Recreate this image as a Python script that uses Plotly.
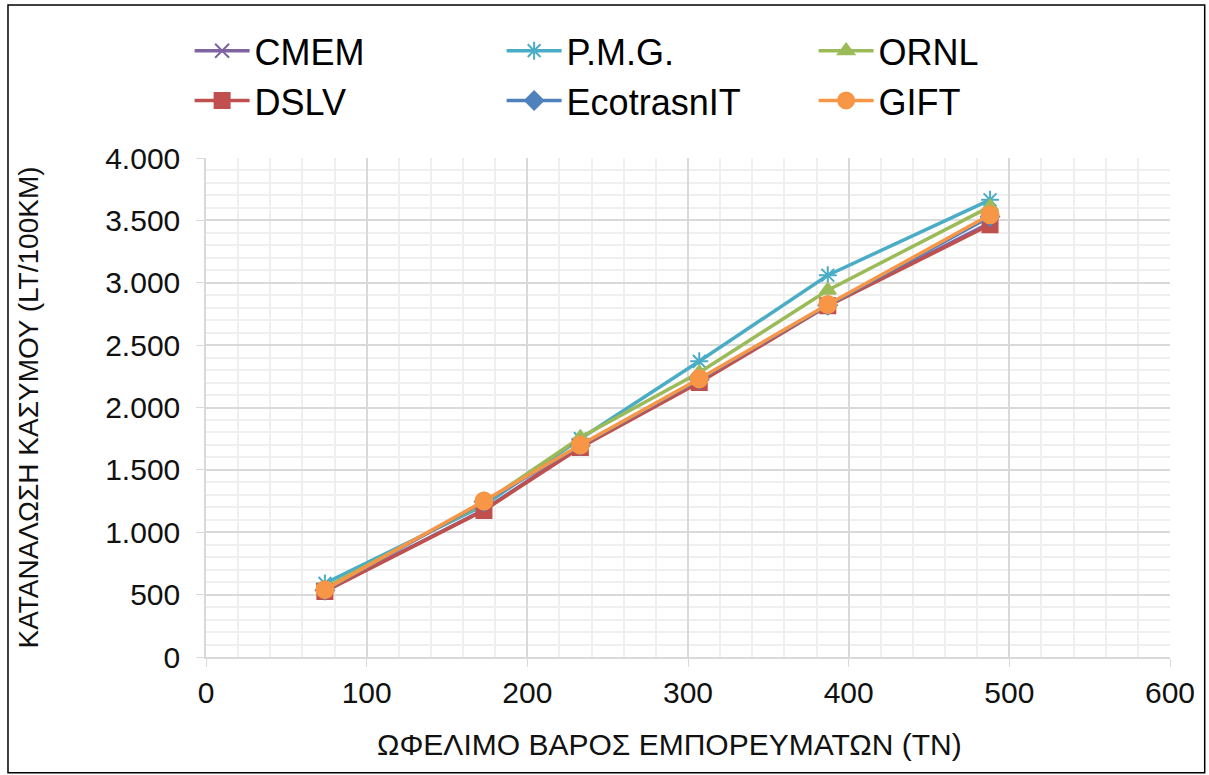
import plotly.graph_objects as go

payload = [74, 173, 233, 307, 387, 488]
series_names = ["CMEM", "P.M.G.", "ORNL", "DSLV", "EcotrasnIT", "GIFT"]
cmem = [530, 1180, 1690, 2210, 2820, 3480]
pmg = [590, 1215, 1750, 2370, 3060, 3665]
ornl = [555, 1235, 1760, 2280, 2940, 3610]
dslv = [525, 1175, 1680, 2200, 2815, 3465]
ecotrans = [535, 1245, 1695, 2225, 2820, 3530]
gift = [540, 1250, 1700, 2230, 2825, 3545]
x_title = "ΩΦΕΛΙΜΟ ΒΑΡΟΣ ΕΜΠΟΡΕΥΜΑΤΩΝ (TN)"
y_title = "ΚΑΤΑΝΑΛΩΣΗ ΚΑΣΥΜΟΥ (LT/100KM)"

colors = ["#8064A2", "#4BACC6", "#9BBB59", "#C0504D", "#4F81BD", "#F79646"]
symbols = ["x-thin-open", "asterisk-open", "triangle-up", "square", "diamond", "circle"]
sizes = [14, 15, 14, 15, 14, 17]
values = [cmem, pmg, ornl, dslv, ecotrans, gift]

fig = go.Figure()
for name, vals, c, s, sz in zip(series_names, values, colors, symbols, sizes):
    fig.add_trace(go.Scatter(
        x=payload, y=vals, name=name, mode="lines+markers",
        line=dict(color=c, width=3.5),
        marker=dict(symbol=s, size=sz, color=c, line=dict(color=c, width=2)),
    ))

font_family = "Liberation Sans, Arial, sans-serif"
fig.update_layout(
    width=1209, height=775,
    margin=dict(l=206, r=39, t=158, b=118),
    paper_bgcolor="white", plot_bgcolor="white",
    separators=",.",
    font=dict(family=font_family, color="#111111"),
    legend=dict(
        orientation="h", x=-0.017, y=1.275, xanchor="left", yanchor="top",
        entrywidth=242, entrywidthmode="pixels",
        font=dict(size=36, color="#000000"), itemwidth=55,
        tracegroupgap=0,
    ),
    xaxis=dict(
        range=[0, 600], dtick=100, tick0=0,
        showgrid=True, gridcolor="#d9d9d9", gridwidth=1.5,
        minor=dict(dtick=20, showgrid=True, gridcolor="#efefef", gridwidth=1.5),
        ticks="outside", ticklen=8, tickcolor="#d9d9d9",
        showline=True, linecolor="#d9d9d9", linewidth=1.5,
        zeroline=False,
        tickfont=dict(size=30, color="#111111"),
    ),
    yaxis=dict(
        range=[0, 4000], dtick=500, tick0=0, tickformat=",d",
        showgrid=True, gridcolor="#d9d9d9", gridwidth=1.5,
        minor=dict(dtick=100, showgrid=True, gridcolor="#efefef", gridwidth=1.5),
        ticks="outside", ticklen=8, tickcolor="#d9d9d9",
        ticklabelstandoff=10,
        showline=True, linecolor="#d9d9d9", linewidth=1.5,
        zeroline=False,
        tickfont=dict(size=30, color="#111111"),
        title=dict(text=y_title, font=dict(size=28, color="#111111"), standoff=58),
    ),
    annotations=[dict(text=x_title, xref="paper", yref="paper", x=0.481, y=-0.176,
                      xanchor="center", yanchor="middle", showarrow=False,
                      font=dict(size=30, color="#111111"))],
    shapes=[dict(type="rect", xref="paper", yref="paper",
                 x0=-0.2054, x1=1.036, y0=-0.232, y1=1.3066,
                 line=dict(color="#000000", width=1.5), fillcolor="rgba(0,0,0,0)", layer="below")],
)

fig.write_html("out.html")
